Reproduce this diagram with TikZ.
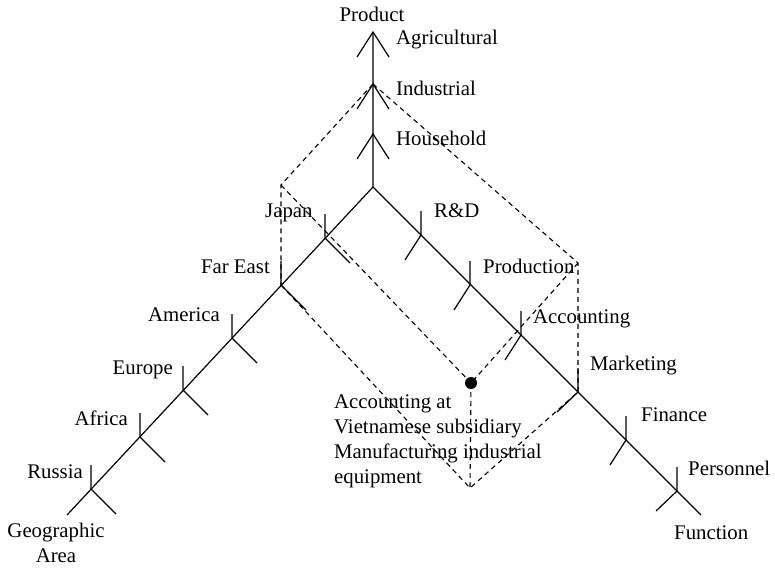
\documentclass[tikz,border=0pt]{standalone}
\usepackage{fontspec}
\setmainfont{Liberation Serif}
\begin{document}
\begin{tikzpicture}[x=1pt,y=-1pt,
  axis/.style={line width=1.2pt},
  guide/.style={line width=1.1pt, dash pattern=on 5pt off 4pt},
  lbl/.style={inner sep=0pt, font=\fontsize{20.8}{25}\selectfont},
]
\useasboundingbox (0,0) rectangle (775,570);

% --- origin and axis ends ---
\coordinate (O)    at (373,187);
\coordinate (gend) at (67,515);
\coordinate (fend) at (701,515);

% product axis marks (top to bottom)
\coordinate (agr) at (373,32);
\coordinate (ind) at (373,84);
\coordinate (hou) at (373,134);

% geographic axis marks
\coordinate (jap) at (325,238);
\coordinate (fe)  at (281,285);
\coordinate (ame) at (232,338);
\coordinate (eur) at (183,390);
\coordinate (afr) at (140,437);
\coordinate (rus) at (91,489);

% function axis marks
\coordinate (rd)  at (421,235);
\coordinate (pro) at (470,285);
\coordinate (acc) at (521,335);
\coordinate (mkt) at (578,392);
\coordinate (fin) at (626,440);
\coordinate (per) at (677,491);

% corners of the dashed projection
\coordinate (cl)   at (281,185);
\coordinate (cr)   at (578,263);
\coordinate (pt)   at (471,383);
\coordinate (bot)  at (470,488);

% --- axes ---
\draw[axis] (agr) -- (O) -- (gend);
\draw[axis] (O) -- (fend);

% chevrons on the product axis
\foreach \p in {agr,ind,hou}
  \draw[axis] (\p) ++(-16,25) -- (\p) -- ++(16,25);

% ticks on the geographic axis
\foreach \p in {jap,fe,ame,eur,afr,rus}
  \draw[axis] (\p) ++(0,-24) -- (\p) -- ++(25,25);

% ticks on the function axis
\foreach \p/\dx/\dy in {rd/-16/25,pro/-16/25,acc/-16/25,mkt/-21/20,fin/-16/25,per/-21/20}
  \draw[axis] (\p) ++(0,-24) -- (\p) -- ++(\dx,\dy);

% --- dashed projection lines ---
\draw[guide] (ind) -- (cl) -- (fe);
\draw[guide] (cl) -- (pt);
\draw[guide] (ind) -- (cr) -- (mkt);
\draw[guide] (cr) -- (pt);
\draw[guide] (pt) -- (bot);
\draw[guide] (fe) -- (bot) -- (mkt);

\node[circle, fill=black, inner sep=0pt, minimum size=12pt] (dot) at (pt) {};

% --- labels ---
\node[lbl, anchor=base] (lprod) at (372,21) {Product};
\node[lbl, anchor=base west] (lagr) at (396,44) {Agricultural};
\node[lbl, anchor=base west] (lind) at (396,95) {Industrial};
\node[lbl, anchor=base west] (lhou) at (396,145) {Household};

\node[lbl, anchor=base west] (ljap) at (265,217) {Japan};
\node[lbl, anchor=base east] (lfe)  at (270,273) {Far East};
\node[lbl, anchor=base east] (lame) at (220,321) {America};
\node[lbl, anchor=base east] (leur) at (173,374) {Europe};
\node[lbl, anchor=base east] (lafr) at (128,425) {Africa};
\node[lbl, anchor=base east] (lrus) at (83,478) {Russia};
% multi-line nodes: the base anchor sits on the last line
\node[lbl, anchor=base, align=center] (lgeo) at (56,562) {Geographic\\Area};

\node[lbl, anchor=base west] (lrd)  at (434,217) {R\&D};
\node[lbl, anchor=base west] (lpro) at (483,273) {Production};
\node[lbl, anchor=base west] (lacc) at (533,323) {Accounting};
\node[lbl, anchor=base west] (lmkt) at (590,370) {Marketing};
\node[lbl, anchor=base west] (lfin) at (641,421) {Finance};
\node[lbl, anchor=base west] (lper) at (688,475) {Personnel};
\node[lbl, anchor=base west] (lfun) at (674,539) {Function};

\node[lbl, anchor=base west, align=left] (lpt) at (334,483)
  {Accounting at\\Vietnamese subsidiary\\Manufacturing industrial\\equipment};
\end{tikzpicture}
\end{document}
